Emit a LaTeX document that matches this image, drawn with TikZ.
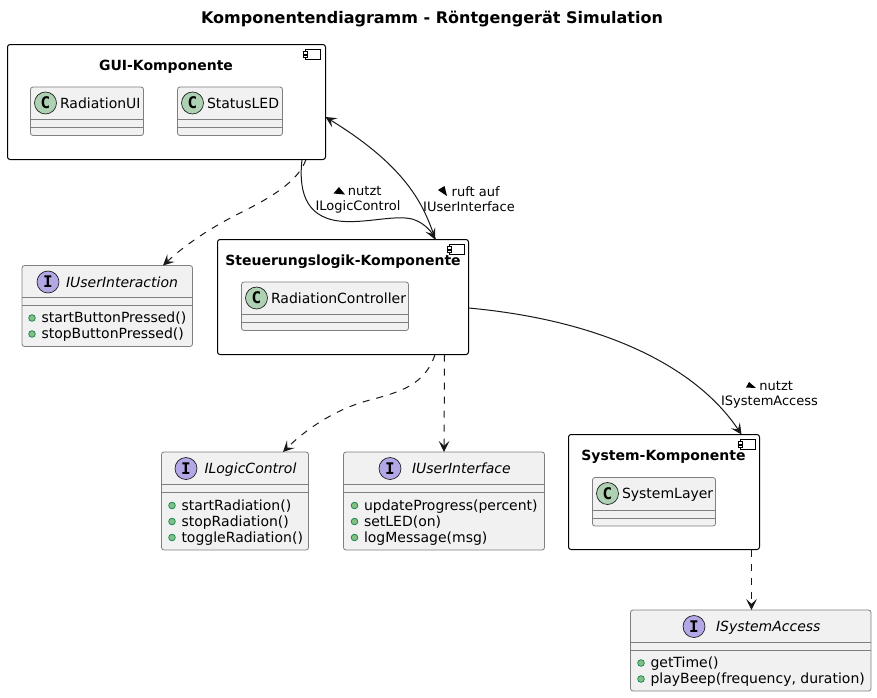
\documentclass[tikz,border=0pt]{standalone}
\usepackage{fontspec}
\setmainfont{DejaVu Sans}
\setmonofont{DejaVu Sans Mono}
\usetikzlibrary{arrows.meta,calc}
\definecolor{boxfill}{HTML}{F1F1F1}
\definecolor{boxline}{HTML}{7F7F7F}
\definecolor{spotC}{HTML}{ADD1B2}
\definecolor{spotI}{HTML}{B4A7E5}
\definecolor{bulletfill}{HTML}{84BE84}
\definecolor{bulletline}{HTML}{038048}
\definecolor{linkcol}{HTML}{181818}
\tikzset{
  x=0.75pt,y=-0.75pt,
  compbox/.style={draw=black,fill=white,line width=0.75pt,rounded corners=1.9pt,inner sep=0pt,outer sep=0pt},
  classbox/.style={draw=boxline,fill=boxfill,line width=0.6pt,rounded corners=1.9pt,inner sep=0pt,outer sep=0pt},
  sepline/.style={draw=boxline,line width=0.6pt},
  spot/.style={circle,draw=linkcol,line width=0.5pt,minimum size=16.5pt,inner sep=0pt,font=\fontsize{12pt}{12pt}\ttfamily\bfseries},
  bullet/.style={circle,draw=bulletline,fill=bulletfill,line width=0.5pt,minimum size=5pt,inner sep=0pt},
  txt/.style={inner sep=0pt,outer sep=0pt,anchor=base west,font=\fontsize{10.5pt}{12pt}\selectfont},
  itxt/.style={txt,font=\fontsize{10.5pt}{12pt}\selectfont\itshape},
  ctitle/.style={inner sep=0pt,outer sep=0pt,anchor=base,font=\fontsize{10.5pt}{12pt}\selectfont\bfseries},
  ptitle/.style={ctitle,font=\fontsize{12pt}{14pt}\selectfont\bfseries},
  lbl/.style={inner sep=0pt,outer sep=0pt,align=center,font=\fontsize{9.75pt}{11.4pt}\selectfont},
  link/.style={draw=linkcol,line width=0.75pt,-{Stealth[length=8.25pt,width=8pt,inset=3.6pt]}},
  dlink/.style={link,dash pattern=on 5.25pt off 5.25pt},
  icon/.style={draw=black,fill=white,line width=0.75pt},
}
\newcommand{\kbox}[6]{%
  \node[#6,minimum width={(#4-#2)*0.75pt},minimum height={(#5-#3)*0.75pt}] (#1) at ({(#2+#4)/2},{(#3+#5)/2}) {};}
\newcommand{\kicon}[2]{%
  \draw[icon] (#1+2,#2) rectangle (#1+17,#2+10);
  \draw[icon] (#1,#2+2) rectangle (#1+4,#2+4.5);
  \draw[icon] (#1,#2+5.5) rectangle (#1+4,#2+8);}
\newcommand{\kclass}[6]{% name x1 y1 x2 y2 label
  \kbox{#1}{#2}{#3}{#4}{#5}{classbox}
  \draw[sepline] (#2,#3+32.5) -- (#4,#3+32.5);
  \draw[sepline] (#2,#3+40.5) -- (#4,#3+40.5);
  \node[spot,fill=spotC] (#1spot) at (#2+15,#3+16) {C};
  \node[txt] (#1text) at (#2+29.5,#3+21) {#6};}
\newcommand{\kiface}[8]{% name x1 y1 x2 y2 spotx textx label
  \kbox{#1}{#2}{#3}{#4}{#5}{classbox}
  \draw[sepline] (#2,#3+32) -- (#4,#3+32);
  \draw[sepline] (#2,#3+40) -- (#4,#3+40);
  \node[spot,fill=spotI] (#1spot) at (#6,#3+16.5) {I};
  \node[itxt] (#1text) at (#7,#3+21.5) {#8};}
\newcommand{\kmember}[4]{% name x baseline text
  \node[bullet] (#1b) at (#2,#3-4.5) {};
  \node[txt] (#1t) at (#2+9.5,#3) {#4};}
\begin{document}
\begin{tikzpicture}
\useasboundingbox (0,0) rectangle (877,697);
\fill[white] (0,0) rectangle (877,697);
\node[ptitle] (title) at (432,23) {Komponentendiagramm - Röntgengerät Simulation};
% components
\kbox{gui}{7.5}{44.5}{325.5}{159.5}{compbox}
\kicon{303.5}{49.5}
\node[ctitle] (guit) at (166,70) {GUI-Komponente};
\kclass{rui}{30.5}{87}{143.5}{135.5}{RadiationUI}
\kclass{led}{177.5}{87}{282.5}{135.5}{StatusLED}
\kbox{ctl}{217.5}{239.5}{468.5}{354.5}{compbox}
\kicon{447}{244.5}
\node[ctitle] (ctlt) at (343,265) {Steuerungslogik-Komponente};
\kclass{rc}{241.5}{282}{408.5}{330.5}{RadiationController}
\kbox{sys}{568.5}{434.5}{759.5}{549.5}{compbox}
\kicon{738}{439.5}
\node[ctitle] (syst) at (663.5,460) {System-Komponente};
\kclass{sl}{592.5}{477.5}{715.5}{526}{SystemLayer}
% interfaces
\kiface{iui}{22}{265.5}{192.5}{346.5}{48}{66}{IUserInteraction}
\kmember{m1}{32}{322.5}{startButtonPressed()}
\kmember{m2}{32}{338.5}{stopButtonPressed()}
\kiface{ilc}{161.5}{452}{308.5}{550}{186}{204.5}{ILogicControl}
\kmember{m3}{172}{510}{startRadiation()}
\kmember{m4}{172}{526}{stopRadiation()}
\kmember{m5}{172}{542}{toggleRadiation()}
\kiface{iuf}{343.5}{452}{544.5}{550}{390}{412}{IUserInterface}
\kmember{m6}{354.5}{510}{updateProgress(percent)}
\kmember{m7}{354.5}{526}{setLED(on)}
\kmember{m8}{354.5}{542}{logMessage(msg)}
\kiface{isa}{630.5}{610}{871}{691}{694}{716}{ISystemAccess}
\kmember{m9}{641}{667.5}{getTime()}
\kmember{m10}{641}{683.5}{playBeep(frequency, duration)}
% connectors
\draw[dlink] ($(gui.south west)+(298.5,0)$) .. controls (298,182) and (270,198) .. (240,213) .. controls (210,228) and (185,245) .. (iui.north -| 163,0);
\draw[link] ($(gui.south west)+(294.5,0)$) .. controls (298,195) and (308,220) .. (345,221.5) .. controls (370,222.5) and (395,215) .. (412,219) .. controls (423,222) and (431,231) .. ($(ctl.north west)+(217.5,0)$);
\draw[link] ($(ctl.north west)+(218,0)$) .. controls (425,210) and (412,170) .. (gui.east |- 0,117);
\draw[dlink] ($(ctl.south west)+(217.5,0)$) .. controls (425,385) and (400,392) .. (370,400) .. controls (335,409) and (305,430) .. ($(ilc.north west)+(121.5,0)$);
\draw[dlink] ($(ctl.south west)+(227,0)$) -- ($(iuf.north west)+(100.5,0)$);
\draw[link] (ctl.east |- 0,308) .. controls (600,320) and (695,365) .. ($(sys.north west)+(173,0)$);
\draw[dlink] ($(sys.south west)+(183,0)$) -- ($(isa.north west)+(121,0)$);
% labels
\node[lbl] (l1) at (358,199.5) {\hspace{10pt}nutzt\\ILogicControl};
\fill[black] (339,187) -- (345,194.5) -- (333.5,193.5) -- cycle;
\node[lbl] (l2) at (469,199.5) {\hspace{10pt}ruft auf\\IUserInterface};
\fill[black] (438,190) -- (444.5,186) -- (447,196) -- cycle;
\node[lbl] (l3) at (769.5,394.5) {\hspace{10pt}nutzt\\ISystemAccess};
\fill[black] (749,382) -- (756,388) -- (746,387.5) -- cycle;
\end{tikzpicture}
\end{document}
